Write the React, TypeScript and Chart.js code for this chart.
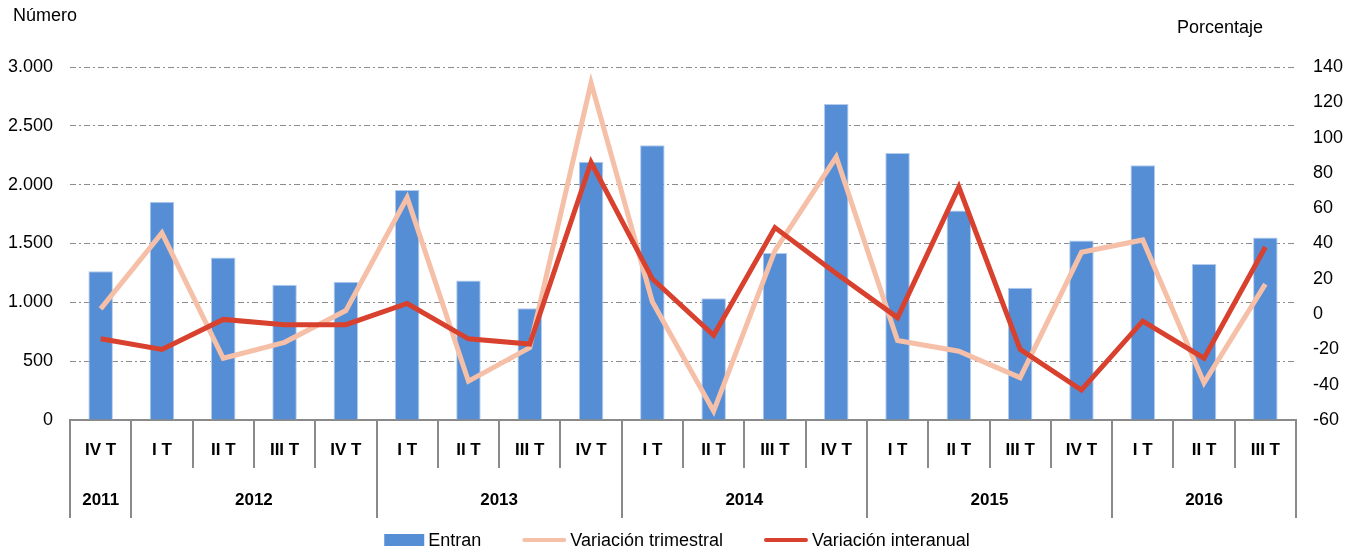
import React, { useEffect, useRef } from "react";
import { Chart, registerables } from "chart.js";

Chart.register(...registerables);

// ---- Data ----
const quarters = [
  "IV T",
  "I T", "II T", "III T", "IV T",
  "I T", "II T", "III T", "IV T",
  "I T", "II T", "III T", "IV T",
  "I T", "II T", "III T", "IV T",
  "I T", "II T", "III T",
];
const yearLabels = ["2011", "2012", "2013", "2014", "2015", "2016"];
const yearSpans = [1, 4, 4, 4, 4, 3];

const entran = [
  1265,
  1855, 1380, 1150, 1175,
  1955, 1185, 950, 2195,
  2335, 1035, 1420, 2685,
  2270, 1780, 1125, 1525,
  2165, 1325, 1550,
];
const variacionTrimestral = [
  3,
  46, -25, -16, 2,
  66, -38, -19, 131,
  7, -55, 36, 89,
  -15, -21, -36, 35,
  42, -39, 17,
];
const variacionInteranual = [
  -14,
  -20, -3, -6, -6,
  6, -14, -17, 86,
  20, -12, 49, 23,
  -2, 72, -20, -43,
  -4, -25, 38,
];

const leftTitle = "Número";
const rightTitle = "Porcentaje";
const seriesNames = ["Entran", "Variación trimestral", "Variación interanual"];

const colors = {
  bar: "#558ed5",
  barBorder: "#b4cbec",
  trimestral: "#f5c0a7",
  interanual: "#d9412f",
  axis: "#8a8a8a",
  grid: "#8c8c8c",
};

const FONT = "'Liberation Sans', Arial, sans-serif";

const fmtThousands = (v: number) =>
  String(v).replace(/\B(?=(\d{3})+(?!\d))/g, ".");

const decorPlugin = {
  id: "decor",
  afterDraw(chart: any) {
    const ctx = chart.ctx as CanvasRenderingContext2D;
    const x = chart.scales.x;
    const n = quarters.length;
    const step = x.getPixelForValue(1) - x.getPixelForValue(0);
    const edge = (i: number) =>
      i < n ? x.getPixelForValue(i) - step / 2 : x.getPixelForValue(n - 1) + step / 2;
    const top = x.top;

    const boundaries = new Set<number>();
    let acc = 0;
    boundaries.add(0);
    yearSpans.forEach((s) => {
      acc += s;
      boundaries.add(acc);
    });

    ctx.save();
    ctx.strokeStyle = colors.axis;
    ctx.lineWidth = 2;
    for (let i = 0; i <= n; i++) {
      const px = Math.round(edge(i));
      const len = boundaries.has(i) ? 98 : 48;
      ctx.beginPath();
      ctx.moveTo(px, top);
      ctx.lineTo(px, top + len);
      ctx.stroke();
    }

    ctx.fillStyle = "#000";
    ctx.textAlign = "center";
    ctx.textBaseline = "middle";
    ctx.font = `bold 17px ${FONT}`;
    quarters.forEach((q, i) => {
      ctx.fillText(q, x.getPixelForValue(i), top + 30);
    });
    let start = 0;
    yearLabels.forEach((y, k) => {
      const end = start + yearSpans[k];
      const cx = (edge(start) + edge(end)) / 2;
      ctx.fillText(y, cx, top + 80);
      start = end;
    });

    // axis titles
    ctx.font = `18px ${FONT}`;
    ctx.textAlign = "left";
    ctx.fillText(leftTitle, 13, 16);
    ctx.fillText(rightTitle, 1177, 28);

    // legend
    const legendY = 540;
    ctx.font = `18px ${FONT}`;
    const sampleW = [40, 44, 44];
    const gapText = 4;
    const gapItem = 41;
    const widths = seriesNames.map((s, i) => sampleW[i] + gapText + ctx.measureText(s).width);
    const total = widths.reduce((a, b) => a + b, 0) + gapItem * (widths.length - 1);
    let lx = 677 - total / 2;
    const ds = chart.data.datasets;
    seriesNames.forEach((s, i) => {
      if (i === 0) {
        ctx.fillStyle = ds[0].backgroundColor;
        ctx.fillRect(lx, legendY - 6, sampleW[i], 12);
      } else {
        ctx.strokeStyle = ds[i].borderColor;
        ctx.lineWidth = 4;
        ctx.lineCap = "round";
        ctx.beginPath();
        ctx.moveTo(lx + 2, legendY);
        ctx.lineTo(lx + sampleW[i] - 2, legendY);
        ctx.stroke();
      }
      ctx.fillStyle = "#000";
      ctx.textAlign = "left";
      ctx.fillText(s, lx + sampleW[i] + gapText, legendY + 1);
      lx += widths[i] + gapItem;
    });
    ctx.restore();
  },
};

export default function App() {
  const ref = useRef<HTMLCanvasElement | null>(null);

  useEffect(() => {
    if (!ref.current) return;
    const chart = new Chart(ref.current, {
      type: "bar",
      data: {
        labels: quarters,
        datasets: [
          {
            type: "bar",
            label: seriesNames[0],
            data: entran,
            backgroundColor: colors.bar,
            borderColor: colors.barBorder,
            borderWidth: 1,
            barPercentage: 0.4,
            categoryPercentage: 1,
            yAxisID: "y",
            order: 3,
          },
          {
            type: "line",
            label: seriesNames[1],
            data: variacionTrimestral,
            borderColor: colors.trimestral,
            backgroundColor: colors.trimestral,
            borderWidth: 5,
            pointRadius: 0,
            tension: 0,
            borderJoinStyle: "miter",
            yAxisID: "y1",
            order: 2,
          },
          {
            type: "line",
            label: seriesNames[2],
            data: variacionInteranual,
            borderColor: colors.interanual,
            backgroundColor: colors.interanual,
            borderWidth: 5,
            pointRadius: 0,
            tension: 0,
            borderJoinStyle: "miter",
            yAxisID: "y1",
            order: 1,
          },
        ] as any,
      },
      options: {
        responsive: false,
        animation: false,
        devicePixelRatio: 1,
        layout: { padding: { top: 67, left: 0, right: 0, bottom: 32 } },
        plugins: {
          legend: { display: false },
          tooltip: { enabled: false },
        },
        scales: {
          x: {
            offset: true,
            grid: { display: false },
            border: { display: true, color: colors.axis, width: 2 },
            ticks: { display: false },
            afterFit: (s: any) => {
              s.height = 100;
            },
          },
          y: {
            position: "left",
            min: 0,
            max: 3000,
            ticks: {
              stepSize: 500,
              padding: 17,
              color: "#000",
              font: { family: FONT, size: 18 },
              callback: (v: any) => fmtThousands(Number(v)),
            },
            grid: {
              color: (c: any) => (c.tick && c.tick.value === 0 ? "rgba(0,0,0,0)" : colors.grid),
              lineWidth: 1,
              drawTicks: false,
            },
            border: { display: false, dash: [6, 3, 2, 3] },
            afterFit: (s: any) => {
              s.width = 70;
            },
          },
          y1: {
            position: "right",
            min: -60,
            max: 140,
            ticks: {
              stepSize: 20,
              padding: 17,
              color: "#000",
              font: { family: FONT, size: 18 },
            },
            grid: { display: false, drawTicks: false },
            border: { display: false },
            afterFit: (s: any) => {
              s.width = 54;
            },
          },
        },
      } as any,
      plugins: [decorPlugin],
    });
    return () => chart.destroy();
  }, []);

  return (
    <div style={{ position: "absolute", left: 0, top: 0, width: 1350, height: 552, background: "#fff" }}>
      <canvas ref={ref} width={1350} height={552} style={{ display: "block" }} />
    </div>
  );
}
